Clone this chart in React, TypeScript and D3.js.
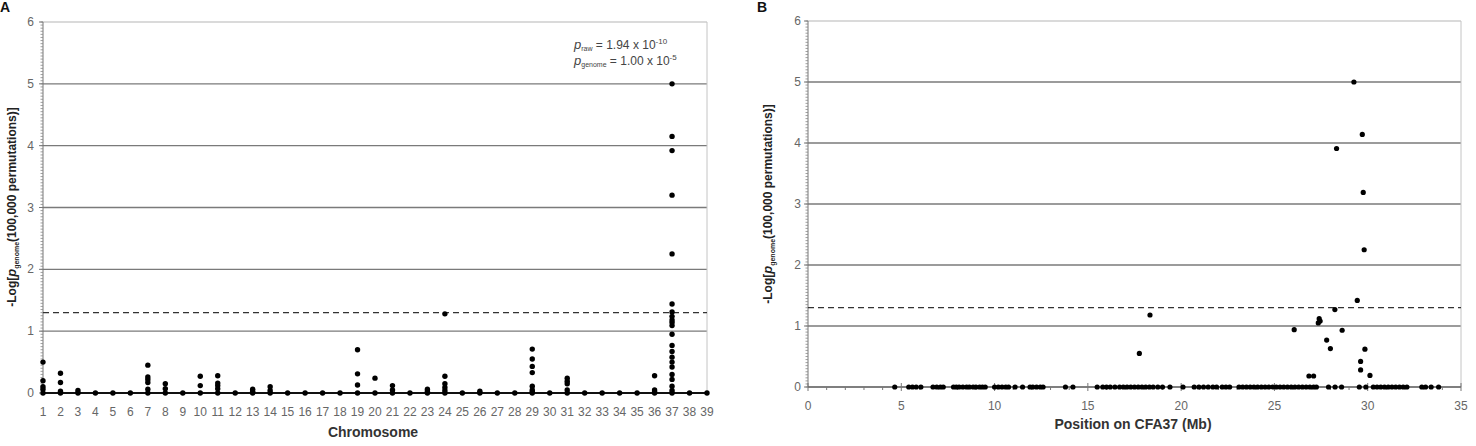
import React from 'react';
import * as d3 from 'd3';

// Panel A: chromosome categories and the -log p values seen on each
const chromosomes = d3.range(1, 40);
const chromValues: number[][] = [
  [0.5, 0.2, 0.1, 0.06, 0],            // 1
  [0.32, 0.17, 0.03, 0],               // 2
  [0.04, 0],                           // 3
  [0], [0], [0],                       // 4-6
  [0.45, 0.26, 0.22, 0.17, 0.06, 0],   // 7
  [0.15, 0.07, 0],                     // 8
  [0],                                 // 9
  [0.27, 0.12, 0],                     // 10
  [0.28, 0.16, 0.12, 0.07, 0],         // 11
  [0],                                 // 12
  [0.06, 0.03, 0],                     // 13
  [0.1, 0.04, 0],                      // 14
  [0], [0], [0], [0],                  // 15-18
  [0.7, 0.31, 0.13, 0],                // 19
  [0.24, 0],                           // 20
  [0.12, 0.05, 0],                     // 21
  [0],                                 // 22
  [0.06, 0.03, 0],                     // 23
  [1.28, 0.27, 0.15, 0.09, 0.04, 0],   // 24
  [0],                                 // 25
  [0.03, 0],                           // 26
  [0], [0],                            // 27-28
  [0.71, 0.55, 0.43, 0.33, 0.11, 0.05, 0.02, 0], // 29
  [0],                                 // 30
  [0.24, 0.19, 0.15, 0.05, 0],         // 31
  [0], [0], [0], [0],                  // 32-35
  [0.28, 0.05, 0.02, 0],               // 36
  [5.0, 4.15, 3.92, 3.2, 2.25, 1.44, 1.31, 1.24, 1.18, 1.14, 1.09, 0.95,
    0.77, 0.67, 0.58, 0.5, 0.42, 0.3, 0.22, 0.11, 0.04, 0], // 37
  [0], [0],                            // 38-39
];

// Panel B: markers on CFA37 with a non-zero value (Mb, -log p)
const signalPos = [17.76, 18.33, 26.06, 26.85, 27.1, 27.35, 27.4, 27.45, 27.8, 28.0, 28.24,
  28.33, 28.63, 29.26, 29.44, 29.62, 29.62, 29.71, 29.76, 29.81, 29.85, 30.12];
const signalVal = [0.55, 1.18, 0.94, 0.18, 0.18, 1.05, 1.12, 1.08, 0.77, 0.63, 1.27,
  3.91, 0.93, 5.0, 1.42, 0.42, 0.28, 4.14, 3.19, 2.25, 0.62, 0.19];
// markers with a value of 0
const zeroPos = [4.65, 5.4, 5.6, 5.8, 6.05, 6.7, 6.9, 7.1, 7.25, 7.8, 7.95, 8.1, 8.3, 8.5,
  8.65, 8.85, 9.0, 9.2, 9.35, 9.5, 10.0, 10.2, 10.4, 10.6, 10.75, 11.1, 11.5, 11.9, 12.05,
  12.25, 12.45, 12.6, 13.8, 14.2, 15.5, 15.8, 16.0, 16.2, 16.45, 16.7, 16.9, 17.1, 17.3,
  17.5, 17.7, 17.9, 18.1, 18.3, 18.5, 18.75, 19.0, 19.4, 20.1, 20.7, 20.95, 21.2, 21.45,
  21.7, 21.9, 22.2, 22.4, 22.6, 23.1, 23.3, 23.5, 23.7, 23.9, 24.1, 24.3, 24.5, 24.7, 24.9,
  25.1, 25.3, 25.5, 25.7, 25.9, 26.1, 26.3, 26.5, 26.7, 26.9, 27.1, 27.25, 27.9, 28.25,
  28.6, 29.55, 29.9, 30.3, 30.5, 30.7, 30.9, 31.1, 31.3, 31.5, 31.7, 31.9, 32.1, 32.9,
  33.1, 33.4, 33.8];

const yTicks = [0, 1, 2, 3, 4, 5, 6];
const xTicksB = [0, 5, 10, 15, 20, 25, 30, 35];
const threshold = -Math.log10(0.05);

const FONT = 'Arial, "Liberation Sans", sans-serif';

function YAxisTitle({ x, y }: { x: number; y: number }) {
  return (
    <text transform={`translate(${x},${y}) rotate(-90)`} textAnchor="middle"
      fontFamily={FONT} fontSize={12} fontWeight="bold" fill="#222">
      -Log[<tspan fontStyle="italic" fontSize={13}>p</tspan>
      <tspan fontSize={7} dy={3}>genome</tspan>
      <tspan dy={-3}>(100,000 permutations)]</tspan>
    </text>
  );
}

function Frame({ x, y, yLabelX }: { x: d3.ScaleLinear<number, number>; y: d3.ScaleLinear<number, number>; yLabelX: number }) {
  const [x0, x1] = x.range();
  const minor = d3.range(0, 6.0001, 0.05);
  return (
    <g>
      {yTicks.filter(t => t > 0).map(t => (
        <line key={t} x1={x0} x2={x1} y1={y(t)} y2={y(t)}
          stroke={t === 6 ? '#b5b5b5' : '#7a7a7a'} strokeWidth={t === 6 ? 1 : 1.3} />
      ))}
      <line x1={x1} x2={x1} y1={y(6)} y2={y(0)} stroke="#c4c4c4" />
      <line x1={x0} x2={x0} y1={y(6)} y2={y(0)} stroke="#777" />
      {minor.map((t, i) => (
        <line key={i} x1={x0 - 2.5} x2={x0} y1={y(t)} y2={y(t)} stroke="#888" strokeWidth={0.8} />
      ))}
      {yTicks.map(t => (
        <g key={t}>
          <line x1={x0 - 4} x2={x0} y1={y(t)} y2={y(t)} stroke="#777" />
          <text x={yLabelX} y={y(t) + 4} textAnchor="end" fontFamily={FONT} fontSize={12} fill="#666">{t}</text>
        </g>
      ))}
      <line x1={x0} x2={x1} y1={y(threshold)} y2={y(threshold)}
        stroke="#333" strokeWidth={1.3} strokeDasharray="6,4" />
    </g>
  );
}

export default function App() {
  const xA = d3.scaleLinear().domain([1, 39]).range([43, 707]);
  const yA = d3.scaleLinear().domain([0, 6]).range([393, 22]);
  const xB = d3.scaleLinear().domain([0, 35]).range([808, 1461]);
  const yB = d3.scaleLinear().domain([0, 6]).range([387, 21]);

  const ptsA = chromosomes.flatMap((c, i) => chromValues[i].map(v => ({ c, v })));
  const ptsB = [
    ...zeroPos.map(p => ({ p, v: 0 })),
    ...signalPos.map((p, i) => ({ p, v: signalVal[i] })),
  ];

  return (
    <svg width={1476} height={446} style={{ position: 'absolute', left: 0, top: 0, background: '#fff' }}>
      {/* Panel A */}
      <text x={0} y={12} fontFamily={FONT} fontSize={14} fontWeight="bold" fill="#111">A</text>
      <Frame x={xA} y={yA} yLabelX={34} />
      <line x1={43} x2={707} y1={yA(0)} y2={yA(0)} stroke="#111" strokeWidth={2} />
      {chromosomes.map(c => (
        <text key={c} x={xA(c)} y={416} textAnchor="middle" fontFamily={FONT} fontSize={12} fill="#666">{c}</text>
      ))}
      {ptsA.map((d, i) => (
        <circle key={i} cx={xA(d.c)} cy={yA(d.v)} r={2.7} fill="#000" />
      ))}
      <YAxisTitle x={16} y={207} />
      <text x={373} y={437} textAnchor="middle" fontFamily={FONT} fontSize={14} fontWeight="bold" fill="#333">Chromosome</text>
      <text x={574} y={49} fontFamily={FONT} fontSize={12} fill="#444">
        <tspan fontStyle="italic" fontSize={13}>p</tspan>
        <tspan fontSize={7} dy={2}>raw</tspan>
        <tspan dy={-2}> = 1.94 x 10</tspan>
        <tspan fontSize={8} dy={-5}>-10</tspan>
      </text>
      <text x={574} y={65} fontFamily={FONT} fontSize={12} fill="#444">
        <tspan fontStyle="italic" fontSize={13}>p</tspan>
        <tspan fontSize={7} dy={2}>genome</tspan>
        <tspan dy={-2}>  = 1.00 x 10</tspan>
        <tspan fontSize={8} dy={-5}>-5</tspan>
      </text>

      {/* Panel B */}
      <text x={757} y={12} fontFamily={FONT} fontSize={14} fontWeight="bold" fill="#111">B</text>
      <Frame x={xB} y={yB} yLabelX={801} />
      <line x1={808} x2={1461} y1={yB(0)} y2={yB(0)} stroke="#555" strokeWidth={1.3} />
      {d3.range(0, 36).map(t => (
        <line key={t} x1={xB(t)} x2={xB(t)} y1={yB(0) - (t % 5 === 0 ? 4 : 0)} y2={yB(0) + (t % 5 === 0 ? 4 : 3)}
          stroke="#777" />
      ))}
      {xTicksB.map(t => (
        <text key={t} x={xB(t)} y={410} textAnchor="middle" fontFamily={FONT} fontSize={12} fill="#666">{t}</text>
      ))}
      {ptsB.map((d, i) => (
        <circle key={i} cx={xB(d.p)} cy={yB(d.v)} r={2.6} fill="#000" />
      ))}
      <YAxisTitle x={772} y={204} />
      <text x={1133} y={429} textAnchor="middle" fontFamily={FONT} fontSize={14} fontWeight="bold" fill="#333">Position on CFA37 (Mb)</text>
    </svg>
  );
}
